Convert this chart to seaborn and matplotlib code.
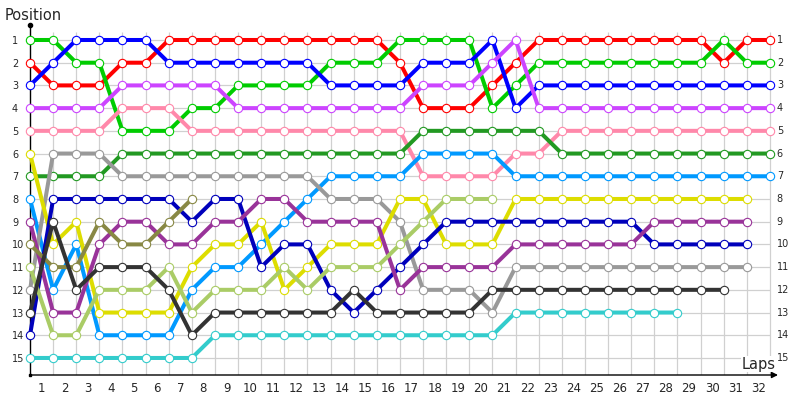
import numpy as np
import pandas as pd
import matplotlib
matplotlib.use('Agg')
import matplotlib.pyplot as plt
import seaborn as sns

# positions per lap (lap 0 = grid)
red = [2, 3, 3, 3, 2, 2, 1, 1, 1, 1, 1, 1, 1, 1, 1, 1, 2, 4, 4, 4, 3, 2, 1, 1, 1, 1, 1, 1, 1, 1, 2, 1, 1]
green = [1, 1, 2, 2, 5, 5, 5, 4, 4, 3, 3, 3, 3, 2, 2, 2, 1, 1, 1, 1, 4, 3, 2, 2, 2, 2, 2, 2, 2, 2, 1, 2, 2]
blue = [3, 2, 1, 1, 1, 1, 2, 2, 2, 2, 2, 2, 2, 3, 3, 3, 3, 2, 2, 2, 1, 4, 3, 3, 3, 3, 3, 3, 3, 3, 3, 3, 3]
violet = [4, 4, 4, 4, 3, 3, 3, 3, 3, 4, 4, 4, 4, 4, 4, 4, 4, 3, 3, 3, 2, 1, 4, 4, 4, 4, 4, 4, 4, 4, 4, 4, 4]
pink = [5, 5, 5, 5, 4, 4, 4, 5, 5, 5, 5, 5, 5, 5, 5, 5, 5, 7, 7, 7, 7, 6, 6, 5, 5, 5, 5, 5, 5, 5, 5, 5, 5]
dark_green = [7, 7, 7, 7, 6, 6, 6, 6, 6, 6, 6, 6, 6, 6, 6, 6, 6, 5, 5, 5, 5, 5, 5, 6, 6, 6, 6, 6, 6, 6, 6, 6, 6]
light_blue = [8, 12, 10, 14, 14, 14, 14, 12, 11, 11, 10, 9, 8, 7, 7, 7, 7, 6, 6, 6, 6, 7, 7, 7, 7, 7, 7, 7, 7, 7, 7, 7, 7]
gray = [12, 6, 6, 6, 7, 7, 7, 7, 7, 7, 7, 7, 7, 8, 8, 8, 9, 12, 12, 12, 13, 11, 11, 11, 11, 11, 11, 11, 11, 11, 11, 11]
yellow = [6, 10, 9, 13, 13, 13, 13, 11, 10, 10, 9, 12, 11, 10, 10, 10, 8, 8, 10, 10, 10, 8, 8, 8, 8, 8, 8, 8, 8, 8, 8, 8]
dark_blue = [14, 8, 8, 8, 8, 8, 8, 9, 8, 8, 11, 10, 10, 12, 13, 12, 11, 10, 9, 9, 9, 9, 9, 9, 9, 9, 9, 10, 10, 10, 10, 10]
purple = [9, 13, 13, 10, 9, 9, 10, 10, 9, 9, 8, 8, 9, 9, 9, 9, 12, 11, 11, 11, 11, 10, 10, 10, 10, 10, 10, 9, 9, 9, 9, 9]
olive = [10, 11, 11, 9, 10, 10, 9, 8]
light_green = [11, 14, 14, 12, 12, 12, 11, 13, 12, 12, 12, 11, 12, 11, 11, 11, 10, 9, 8, 8, 8]
black = [13, 9, 12, 11, 11, 11, 12, 14, 13, 13, 13, 13, 13, 13, 12, 13, 13, 13, 13, 13, 12, 12, 12, 12, 12, 12, 12, 12, 12, 12, 12]
teal = [15, 15, 15, 15, 15, 15, 15, 15, 14, 14, 14, 14, 14, 14, 14, 14, 14, 14, 14, 14, 14, 13, 13, 13, 13, 13, 13, 13, 13]

drivers = {
    'red': (red, '#ff0000'),
    'green': (green, '#00cc00'),
    'blue': (blue, '#0000ff'),
    'violet': (violet, '#cc44ff'),
    'pink': (pink, '#ff88aa'),
    'dark_green': (dark_green, '#229922'),
    'light_blue': (light_blue, '#0099ff'),
    'gray': (gray, '#999999'),
    'yellow': (yellow, '#dddd00'),
    'dark_blue': (dark_blue, '#0000bb'),
    'purple': (purple, '#993399'),
    'olive': (olive, '#888844'),
    'light_green': (light_green, '#aacc66'),
    'black': (black, '#333333'),
    'teal': (teal, '#33cccc'),
}

n_laps = 32
n_pos = 15

sns.set_style('white')
plt.rcParams['font.family'] = ['DejaVu Sans']

fig = plt.figure(figsize=(8, 4), dpi=100)
ax = fig.add_axes([30 / 800, 25 / 400, 748 / 800, 350 / 400])

x_max = 32.35
y_top = 0.34
y_bot = 15.75

# grid
ax.vlines(np.arange(1, n_laps + 1), 0.65, y_bot, color='#d0d0d0', lw=0.9, zorder=0)
ax.hlines(np.arange(1, n_pos + 1), 0, n_laps, color='#d0d0d0', lw=0.9, zorder=0)

for name, (pos, col) in drivers.items():
    d = pd.DataFrame({'lap': np.arange(len(pos)), 'pos': pos})
    sns.lineplot(data=d, x='lap', y='pos', color=col, estimator=None, sort=False,
                 linewidth=2.9, marker='o', ms=6, mfc='white', mec=col,
                 mew=0.8, clip_on=False, ax=ax)

ax.set_xlim(0, x_max)
ax.set_ylim(y_bot, y_top)
for s in ax.spines.values():
    s.set_visible(False)

# axes lines
ax.plot([0, 0], [y_bot, y_top], color='black', lw=1, clip_on=False, zorder=1)
ax.plot([0], [y_top], 'o', color='black', ms=3, clip_on=False)
ax.plot([0], [y_bot], 's', color='black', ms=2, clip_on=False)
ax.annotate('', xy=(x_max, y_bot), xytext=(0, y_bot), annotation_clip=False,
            arrowprops=dict(arrowstyle='-|>', color='black', lw=1, mutation_scale=9,
                            shrinkA=0, shrinkB=0))

ax.set_xticks(np.arange(1, n_laps + 1) - 0.5)
ax.set_xticklabels([str(i) for i in range(1, n_laps + 1)])
ax.set_yticks(np.arange(1, n_pos + 1))
ax.set_yticklabels([str(i) for i in range(1, n_pos + 1)])
ax.tick_params(axis='x', length=0, pad=5, labelsize=8.5)
ax.tick_params(axis='y', length=0, pad=13, labelsize=7)
for lbl in ax.get_yticklabels():
    lbl.set_horizontalalignment('left')
ax.set_xlabel('')
ax.set_ylabel('')

for i in range(1, n_pos + 1):
    ax.text(32.3, i, str(i), ha='left', va='center', fontsize=7, clip_on=False)

fig.text(5 / 800, 1 - 15 / 400, 'Position', fontsize=10.5, va='center', ha='left')
fig.text(759 / 800, 1 - 364 / 400, 'Laps', fontsize=10.5, va='center', ha='center',
         bbox=dict(facecolor='white', edgecolor='none', pad=0.5))

fig.savefig('out.png', dpi=100)
